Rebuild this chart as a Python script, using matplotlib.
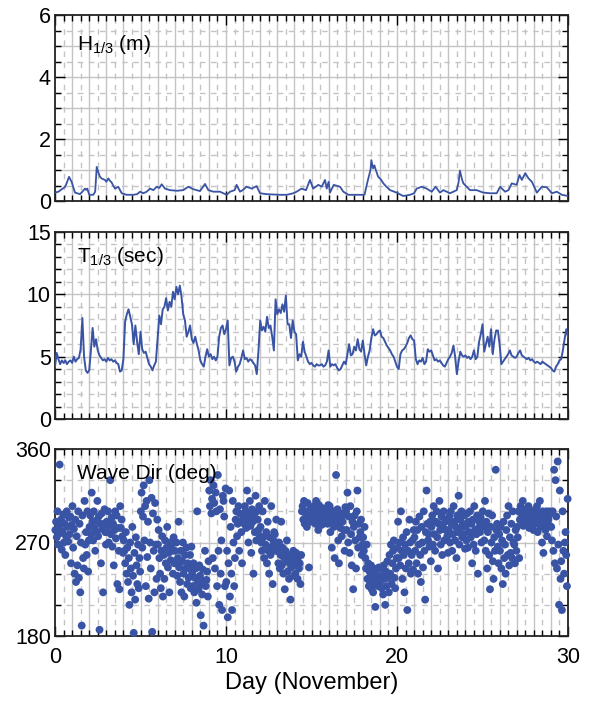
import numpy as np
import matplotlib
matplotlib.use("Agg")
import matplotlib.pyplot as plt
from matplotlib.ticker import MultipleLocator, FixedLocator

plt.rcParams['font.family'] = ['Liberation Sans', 'DejaVu Sans']
plt.rcParams['mathtext.fontset'] = 'custom'
plt.rcParams['mathtext.rm'] = 'Liberation Sans'
plt.rcParams['mathtext.it'] = 'Liberation Sans:italic'

# ---------------- data ----------------
h_day = [0.0, 0.2, 0.4, 0.6, 0.82, 0.97, 1.17, 1.3, 1.46, 1.6, 1.75, 1.82, 1.89, 2.0, 2.24, 2.35,
         2.44, 2.55, 2.63, 2.75, 2.92, 3.0, 3.12, 3.2, 3.31, 3.4, 3.51, 3.7, 3.9, 4.19, 4.58, 4.8,
         4.97, 5.17, 5.36, 5.56, 5.75, 5.95, 6.1, 6.24, 6.43, 6.73, 7.12, 7.5, 7.8, 8.09, 8.48,
         8.77, 8.97, 9.26, 9.65, 10.04, 10.24, 10.5, 10.62, 10.82, 11.0, 11.2, 11.5, 11.79, 11.99,
         12.38, 12.77, 13.16, 13.55, 13.94, 14.13, 14.42, 14.68, 14.91, 15.1, 15.4, 15.6, 15.79,
         15.89, 16.0, 16.08, 16.3, 16.67, 16.86, 17.16, 17.6, 18.1, 18.3, 18.45, 18.5, 18.6, 18.68,
         18.76, 18.9, 19.05, 19.2, 19.4, 19.6, 19.98, 20.37, 20.76, 21.0, 21.15, 21.44, 21.73,
         22.03, 22.26, 22.51, 22.71, 23.1, 23.49, 23.6, 23.68, 23.8, 23.88, 24.27, 24.66, 25.05,
         25.44, 25.83, 26.03, 26.32, 26.52, 26.71, 27.0, 27.16, 27.3, 27.5, 27.69, 27.89, 28.18,
         28.47, 28.76, 29.06, 29.35, 29.64, 30.0]
h_val = [0.27, 0.30, 0.38, 0.46, 0.78, 0.62, 0.27, 0.25, 0.22, 0.30, 0.40, 0.36, 0.40, 0.20, 0.20, 0.30,
         1.10, 0.90, 0.78, 0.72, 0.68, 0.62, 0.73, 0.66, 0.60, 0.50, 0.40, 0.46, 0.25, 0.20, 0.20, 0.22,
         0.30, 0.25, 0.30, 0.40, 0.35, 0.46, 0.42, 0.54, 0.40, 0.35, 0.33, 0.35, 0.46, 0.38, 0.32,
         0.55, 0.35, 0.30, 0.30, 0.20, 0.30, 0.35, 0.52, 0.30, 0.36, 0.46, 0.40, 0.48, 0.25,
         0.22, 0.21, 0.20, 0.20, 0.25, 0.30, 0.40, 0.35, 0.68, 0.40, 0.52, 0.46, 0.68,
         0.40, 0.62, 0.27, 0.52, 0.46, 0.30, 0.20, 0.20, 0.20, 0.68, 1.00, 1.32, 1.05, 1.15,
         1.00, 0.78, 0.70, 0.57, 0.45, 0.35, 0.27, 0.16, 0.20, 0.25, 0.40, 0.46, 0.40,
         0.30, 0.46, 0.27, 0.35, 0.25, 0.35, 0.60, 0.98, 0.70, 0.57, 0.35, 0.35, 0.27,
         0.25, 0.25, 0.46, 0.30, 0.35, 0.57, 0.52, 0.84, 0.68, 0.90, 0.73, 0.62, 0.27,
         0.46, 0.44, 0.25, 0.30, 0.20, 0.16]

t_day = [i / 10 for i in range(301)]
t_val = [4.2, 5.3, 4.8, 4.4, 4.7, 4.5, 4.7, 4.4, 4.6, 4.7,
         4.5, 5.0, 4.6, 4.8, 4.9, 5.6, 8.1, 5.0, 3.9, 3.7,
         3.9, 5.5, 7.3, 5.8, 6.4, 5.5, 5.1, 4.9, 4.7, 4.8,
         4.6, 4.9, 4.7, 4.8, 4.6, 4.7, 4.5, 4.4, 3.8, 3.9,
         4.8, 7.8, 8.4, 8.8, 8.2, 7.6, 6.0, 7.5, 6.2, 5.2,
         7.0, 5.6, 5.3, 5.4, 4.9, 4.4, 4.2, 3.9, 4.3, 4.6,
         6.5, 8.3, 7.6, 8.8, 9.0, 9.7, 8.7, 9.4, 9.0, 10.2,
         9.6, 10.6, 10.0, 10.7, 9.8, 8.4, 7.9, 6.6, 7.0, 7.5,
         6.4, 6.1, 6.6, 6.0, 5.5, 4.7, 4.4, 4.2, 5.0, 5.6,
         5.0, 5.2, 4.8, 5.0, 4.7, 5.0, 6.6, 7.3, 7.5, 6.8,
         7.2, 7.9, 4.3, 4.9, 5.0, 4.6, 3.8, 4.2, 4.4, 4.9,
         5.5, 4.8, 4.9, 4.6, 4.8, 4.7, 4.5, 4.3, 3.6, 5.5,
         7.9, 7.1, 7.4, 7.0, 8.2, 7.3, 7.5, 6.6, 5.5, 9.6,
         8.4, 8.8, 8.5, 9.2, 8.6, 9.9, 7.6, 7.6, 6.5, 7.9,
         7.0, 6.8, 4.7, 5.2, 5.0, 6.2, 5.4, 5.0, 4.6, 4.4,
         4.5, 4.3, 4.2, 4.4, 4.3, 4.3, 4.4, 4.2, 4.3, 4.6,
         5.5, 4.2, 4.4, 4.3, 4.4, 4.1, 3.9, 4.0, 4.3, 4.6,
         4.4, 5.2, 6.0, 5.1, 5.2, 5.8, 5.5, 6.4, 5.6, 5.4,
         6.3, 5.2, 4.3, 5.0, 5.5, 6.5, 7.2, 6.7, 6.8, 7.0,
         7.1, 6.6, 6.5, 6.2, 5.9, 5.7, 5.5, 5.2, 5.0, 4.6,
         4.2, 4.0, 5.2, 5.5, 5.6, 5.8, 6.1, 6.5, 6.7, 6.4,
         6.3, 4.8, 4.4, 4.7, 4.6, 4.9, 4.4, 4.6, 5.6, 5.4,
         5.5, 5.1, 4.7, 4.8, 4.6, 4.7, 4.5, 4.3, 4.2, 4.5,
         4.8, 5.0, 5.3, 5.9, 5.0, 3.6, 4.6, 5.4, 5.1, 5.0,
         5.1, 4.9, 5.0, 4.8, 5.0, 5.5, 4.8, 5.0, 6.2, 6.8,
         7.6, 5.4, 6.0, 6.6, 5.8, 7.2, 5.2, 6.4, 7.1, 7.1,
         6.0, 4.4, 4.6, 4.8, 5.0, 5.2, 5.5, 5.1, 5.0, 4.9,
         5.0, 5.3, 5.5, 5.1, 5.0, 4.9, 4.8, 4.9, 4.7, 4.8,
         4.6, 4.5, 4.6, 4.5, 4.4, 4.6, 4.5, 4.4, 4.3, 4.2,
         4.1, 3.9, 3.8, 4.2, 4.4, 4.7, 4.8, 5.5, 6.4, 7.2,
         6.6]

dir_by_day = [
    [282, 290, 275, 300, 268, 286, 345, 279, 292, 263, 281, 297, 270, 288, 258, 276, 300, 285, 271, 294, 278, 295, 250, 287],
    [305, 265, 283, 240, 292, 232, 276, 248, 300, 236, 288, 222, 270, 190, 296, 255, 245, 310, 268, 280, 258, 300, 242, 272],
    [285, 296, 278, 318, 290, 272, 300, 284, 262, 291, 280, 310, 276, 295, 186, 288, 250, 298, 283, 222, 288, 302, 280, 268],
    [290, 280, 300, 270, 286, 330, 278, 294, 266, 288, 248, 282, 300, 274, 296, 230, 284, 262, 225, 305, 284, 292, 276, 260],
    [272, 262, 250, 280, 240, 265, 232, 255, 210, 270, 245, 222, 285, 238, 183, 260, 215, 275, 248, 230, 268, 226, 255, 242],
    [300, 318, 265, 295, 325, 272, 305, 228, 310, 256, 290, 216, 330, 270, 245, 313, 184, 298, 262, 222, 308, 268, 235, 292],
    [268, 282, 255, 240, 226, 262, 276, 218, 258, 235, 272, 250, 265, 285, 246, 260, 222, 270, 253, 268, 262, 240, 275, 250],
    [262, 250, 270, 238, 255, 290, 246, 232, 262, 222, 252, 270, 240, 218, 258, 245, 265, 230, 250, 236, 245, 258, 226, 266],
    [240, 228, 250, 222, 236, 245, 212, 300, 232, 225, 248, 238, 200, 230, 220, 244, 190, 233, 262, 228, 234, 242, 218, 252],
    [320, 305, 330, 298, 312, 255, 325, 308, 245, 318, 300, 228, 335, 262, 210, 302, 240, 272, 205, 315, 310, 295, 228, 322],
    [232, 262, 198, 250, 320, 218, 285, 240, 205, 310, 270, 228, 255, 292, 300, 276, 288, 305, 262, 298, 290, 280, 250, 296],
    [295, 288, 305, 300, 284, 320, 292, 270, 298, 310, 286, 260, 302, 290, 240, 296, 280, 315, 272, 300, 292, 282, 305, 276],
    [285, 270, 262, 300, 275, 255, 310, 268, 280, 250, 290, 262, 240, 275, 258, 305, 266, 230, 272, 280, 278, 262, 292, 268],
    [262, 250, 270, 245, 258, 290, 248, 265, 240, 255, 225, 262, 252, 272, 242, 258, 235, 250, 215, 246, 255, 248, 262, 238],
    [252, 240, 260, 248, 235, 256, 245, 250, 230, 258, 300, 305, 292, 310, 288, 300, 296, 285, 308, 294, 246, 298, 302, 290],
    [296, 302, 290, 305, 298, 288, 310, 295, 300, 282, 306, 292, 296, 300, 287, 303, 298, 294, 290, 300, 294, 300, 288, 306],
    [292, 305, 280, 298, 265, 290, 300, 285, 255, 295, 335, 288, 302, 272, 250, 292, 284, 298, 276, 290, 296, 282, 262, 304],
    [300, 282, 318, 270, 295, 260, 305, 278, 248, 290, 225, 285, 296, 272, 245, 300, 320, 265, 288, 275, 280, 292, 258, 268],
    [275, 262, 285, 255, 245, 268, 235, 250, 228, 242, 232, 248, 225, 238, 222, 245, 230, 208, 240, 235, 238, 228, 246, 232],
    [232, 245, 226, 238, 220, 248, 235, 210, 242, 228, 252, 236, 222, 258, 240, 268, 230, 250, 262, 272, 236, 226, 245, 255],
    [265, 290, 255, 270, 248, 300, 262, 235, 275, 258, 222, 268, 245, 280, 205, 262, 250, 292, 270, 240, 258, 272, 244, 282],
    [275, 262, 290, 250, 282, 240, 268, 295, 258, 232, 285, 270, 246, 300, 262, 215, 280, 320, 288, 272, 278, 266, 290, 252],
    [285, 296, 268, 305, 278, 262, 290, 300, 275, 245, 288, 310, 282, 268, 295, 258, 285, 300, 272, 290, 282, 292, 276, 260],
    [282, 295, 270, 300, 288, 262, 278, 305, 290, 272, 285, 255, 296, 280, 315, 268, 292, 284, 300, 275, 288, 278, 296, 264],
    [285, 272, 298, 265, 290, 280, 300, 275, 288, 250, 292, 268, 305, 282, 262, 278, 296, 240, 284, 290, 280, 294, 270, 286],
    [300, 285, 272, 310, 262, 290, 245, 280, 298, 258, 225, 285, 270, 296, 252, 235, 275, 262, 340, 282, 288, 266, 250, 278],
    [262, 285, 245, 272, 230, 290, 255, 268, 240, 282, 296, 258, 305, 248, 275, 260, 288, 255, 300, 270, 268, 250, 282, 262],
    [285, 275, 300, 255, 292, 305, 298, 290, 310, 286, 300, 295, 288, 302, 296, 292, 305, 284, 298, 290, 294, 288, 300, 282],
    [295, 288, 302, 292, 305, 280, 298, 290, 310, 285, 296, 270, 300, 260, 288, 294, 282, 300, 276, 295, 292, 300, 286, 298],
    [285, 272, 300, 262, 340, 250, 330, 295, 245, 348, 268, 210, 320, 235, 252, 205, 300, 262, 240, 270, 280, 258, 228, 312],
]

x_ticks = [0, 10, 20, 30]
h_ticks = [0, 2, 4, 6]
t_ticks = [0, 5, 10, 15]
d_ticks = [180, 270, 360]

# derived scatter arrays
d_day = []
d_val = []
for k, vals in enumerate(dir_by_day):
    n = len(vals)
    for j, v in enumerate(vals):
        d_day.append(k + (j + 0.5) / n)
        d_val.append(v)

# ---------------- figure ----------------
BLUE = '#3a54a5'
GRID = '#c4c4c4'
W, H = 591, 702
fig = plt.figure(figsize=(W / 100, H / 100), dpi=100)

left = 55 / W
width = (568 - 55) / W
boxes = [(15, 201), (232, 419), (449, 636)]
axes = []
for top, bot in boxes:
    ax = fig.add_axes([left, 1 - bot / H, width, (bot - top) / H])
    axes.append(ax)

def style(ax, ylim, ymajor, yminor, solid_y, dashed_y, label, ly):
    ax.set_xlim(0, 30)
    ax.set_ylim(*ylim)
    for xv in np.arange(1, 30, 1.0):
        ax.axvline(xv, color=GRID, lw=1.0, zorder=0)
    for xv in np.arange(0.5, 30, 1.0):
        ax.axvline(xv, color=GRID, lw=1.0, ls=(0, (4, 4)), zorder=0)
    for yv in solid_y:
        ax.axhline(yv, color=GRID, lw=1.0, zorder=0)
    for yv in dashed_y:
        ax.axhline(yv, color=GRID, lw=1.0, ls=(0, (4, 4)), zorder=0)
    ax.xaxis.set_major_locator(FixedLocator(x_ticks))
    ax.xaxis.set_minor_locator(MultipleLocator(0.5))
    ax.yaxis.set_major_locator(FixedLocator(ymajor))
    ax.yaxis.set_minor_locator(MultipleLocator(yminor))
    ax.tick_params(which='both', direction='in', top=True, right=True,
                   labelsize=15.5, colors='black', width=1.0)
    ax.tick_params(which='major', length=7, pad=3)
    ax.tick_params(which='minor', length=4)
    for s in ax.spines.values():
        s.set_linewidth(1.3)
        s.set_color('#222222')
    ax.text(0.043, ly, label, transform=ax.transAxes, fontsize=15,
            ha='left', va='center', zorder=10)

ax1, ax2, ax3 = axes
style(ax1, (0, 6), h_ticks, 0.5, [1, 2, 3, 4, 5], [0.5, 1.5, 2.5, 3.5, 4.5, 5.5],
      r'H$_{\mathrm{1/3}}$ (m)', 0.84)
ax1.plot(h_day, h_val, color=BLUE, lw=1.3, zorder=3)
ax1.tick_params(labelbottom=False)

style(ax2, (0, 15), t_ticks, 1, [5, 10], [1, 2, 3, 4, 6, 7, 8, 9, 11, 12, 13, 14],
      r'T$_{\mathrm{1/3}}$ (sec)', 0.87)
ax2.plot(t_day, t_val, color=BLUE, lw=1.4, zorder=3)
ax2.tick_params(labelbottom=False)

style(ax3, (180, 360), d_ticks, 30, [270], [210, 240, 300, 330],
      'Wave Dir (deg)', 0.87)
ax3.scatter(d_day, d_val, s=32, color=BLUE, edgecolors='none', zorder=3, clip_on=False)
ax3.tick_params(axis='x', pad=8)
ax3.set_xlabel('Day (November)', fontsize=17, labelpad=3)

fig.savefig('out.png', dpi=100)
